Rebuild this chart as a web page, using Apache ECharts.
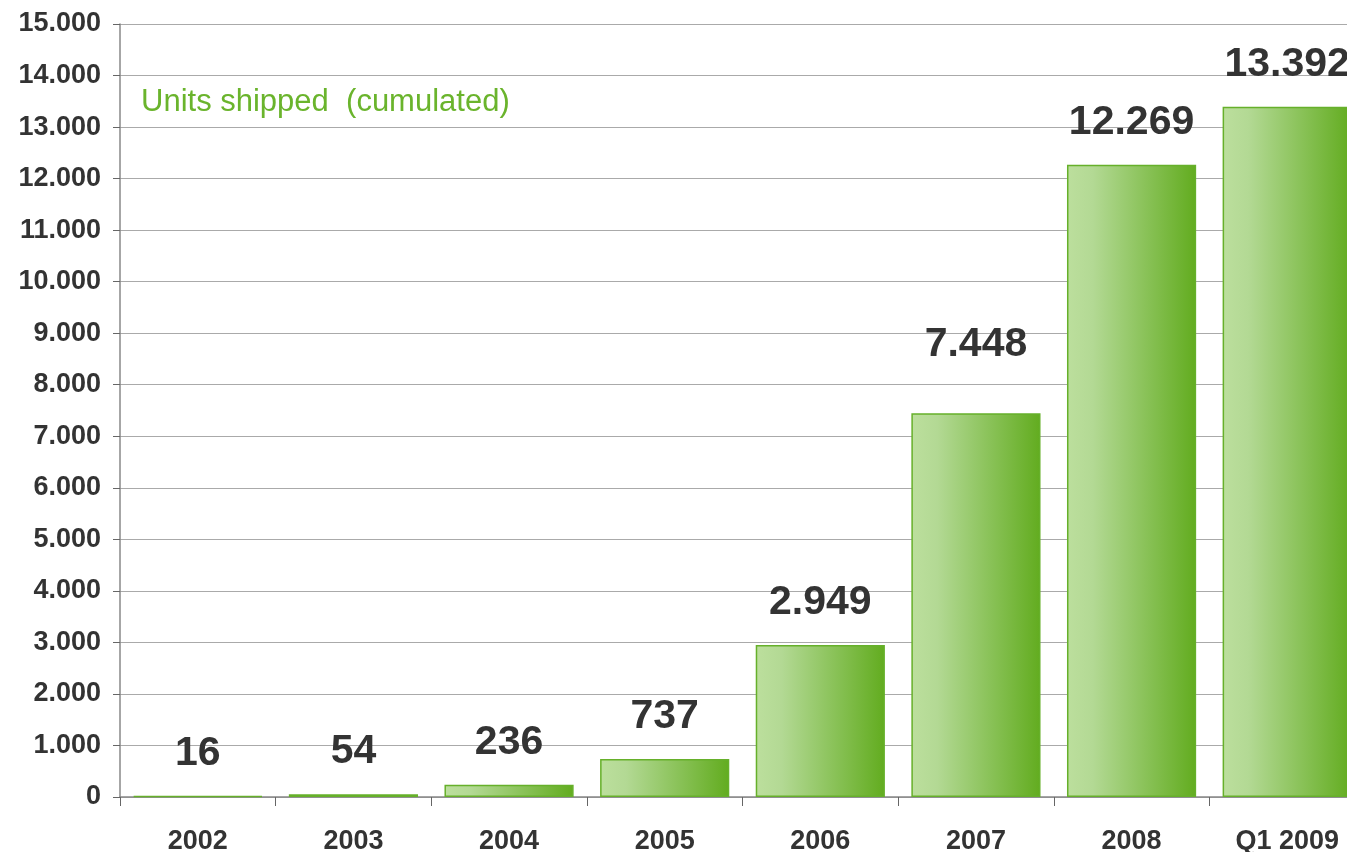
<!DOCTYPE html>
<html>
<head>
<meta charset="utf-8">
<script src="https://cdn.jsdelivr.net/npm/echarts@6/dist/echarts.min.js"></script>
<style>
  html, body { margin: 0; padding: 0; background: #fff; overflow: hidden; }
  #chart { width: 1347px; height: 852px; }
</style>
</head>
<body>
<div id="chart"></div>
<script>
// categories and cumulated units shipped
const categories = ['2002', '2003', '2004', '2005', '2006', '2007', '2008', 'Q1 2009']
const unitsShipped = [16, 54, 236, 737, 2949, 7448, 12269, 13392]

const fmt = v => String(v).replace(/\B(?=(\d{3})+(?!\d))/g, '.')

const chart = echarts.init(document.getElementById('chart'))
chart.setOption({
  backgroundColor: '#fff',
  animation: false,
  title: {
    text: 'Units shipped  (cumulated)',
    left: 136,
    top: 82,
    textStyle: {
      color: '#6ab42c',
      fontSize: 31,
      fontWeight: 'normal',
      fontFamily: 'Liberation Sans, Arial, sans-serif'
    }
  },
  grid: {
    left: 120,
    top: 24,
    bottom: 55,
    right: -18, // plot runs past the right edge, last bar is cut
    outerBoundsMode: 'none'
  },
  xAxis: {
    type: 'category',
    data: categories,
    axisLine: { lineStyle: { color: '#888', width: 1.5 } },
    axisTick: { show: true, length: 9, lineStyle: { color: '#666' } },
    axisLabel: {
      color: '#333',
      fontSize: 27,
      fontWeight: 'bold',
      fontFamily: 'Liberation Sans, Arial, sans-serif',
      margin: 31
    }
  },
  yAxis: {
    type: 'value',
    min: 0,
    max: 15000,
    interval: 1000,
    axisLine: { show: true, lineStyle: { color: '#888', width: 1.5 } },
    axisTick: { show: true, length: 7, lineStyle: { color: '#666' } },
    splitLine: { lineStyle: { color: '#aaa', width: 1 } },
    axisLabel: {
      color: '#333',
      fontSize: 27,
      fontWeight: 'bold',
      fontFamily: 'Liberation Sans, Arial, sans-serif',
      margin: 19,
      formatter: v => fmt(v)
    }
  },
  series: [{
    type: 'bar',
    barCategoryGap: '17%',
    data: unitsShipped.map((v, i) => i === 5
      ? { value: v, label: { distance: 48 } }
      : v),
    itemStyle: {
      color: new echarts.graphic.LinearGradient(0, 0, 1, 0, [
        { offset: 0, color: '#bcdf9d' },
        { offset: 0.2, color: '#b3d994' },
        { offset: 1, color: '#62ac1f' }
      ]),
      borderColor: '#66b02a',
      borderWidth: 1.5
    },
    label: {
      show: true,
      position: 'top',
      distance: 22,
      color: '#333',
      fontSize: 41,
      fontWeight: 'bold',
      fontFamily: 'Liberation Sans, Arial, sans-serif',
      formatter: p => fmt(p.value)
    }
  }]
})
</script>
</body>
</html>
